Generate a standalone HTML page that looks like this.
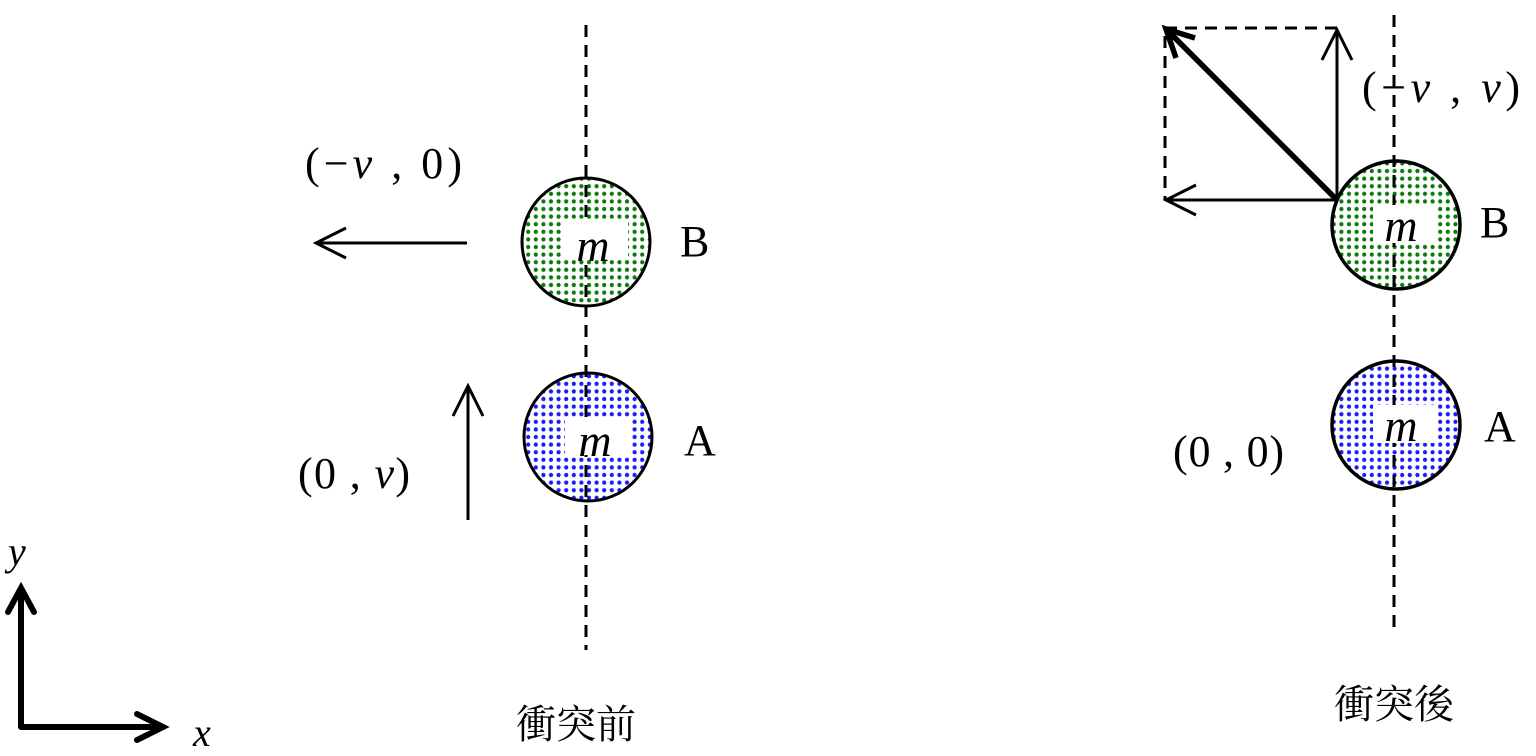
<!DOCTYPE html>
<html><head><meta charset="utf-8"><style>body{margin:0;background:#fff}svg{display:block}</style></head><body>
<svg width="1536" height="756" viewBox="0 0 1536 756" xmlns="http://www.w3.org/2000/svg" font-family="Liberation Serif, Noto Serif CJK SC, serif">
<defs>
<pattern id="pg" width="7.6" height="7.6" patternUnits="userSpaceOnUse"><circle cx="3.8" cy="3.8" r="2.1" fill="#0a7a0a"/></pattern>
<pattern id="pb" width="7.6" height="7.6" patternUnits="userSpaceOnUse"><circle cx="3.8" cy="3.8" r="2.1" fill="#1a1aff"/></pattern>
</defs>
<g stroke="#000" stroke-width="3">
<circle cx="586" cy="242" r="64" fill="url(#pg)"/>
<circle cx="588" cy="437" r="64" fill="url(#pb)"/>
<circle cx="1396" cy="225" r="64" fill="url(#pg)" stroke-width="3.5"/>
<circle cx="1396" cy="425" r="64" fill="url(#pb)" stroke-width="3.5"/>
</g>
<g stroke="#000" stroke-width="3" stroke-dasharray="12,8">
<line x1="586" y1="25" x2="586" y2="650"/>
<line x1="1394" y1="15" x2="1394" y2="635"/>
<polyline points="1337,28 1165,28 1165,200" fill="none"/>
</g>
<g fill="#fff">
<rect x="563" y="222" width="65" height="38"/>
<rect x="565" y="417" width="65" height="38"/>
<rect x="1373" y="205" width="65" height="38"/>
<rect x="1373" y="405" width="65" height="38"/>
</g>
<g fill="none" stroke="#000" stroke-width="3">
<line x1="467" y1="243" x2="316" y2="243"/><polyline points="346,228 316,243 346,258"/>
<line x1="468" y1="520" x2="468" y2="386"/><polyline points="453,416 468,386 483,416"/>
<line x1="1337" y1="200" x2="1337" y2="30"/><polyline points="1322,60 1337,30 1352,60"/>
<line x1="1337" y1="200" x2="1166" y2="200"/><polyline points="1196,185 1166,200 1196,215"/>
<line x1="1337" y1="200" x2="1168" y2="31" stroke-width="5.5"/><polyline points="1176,58 1166,29 1195,38" stroke-width="5.5"/>
<polyline points="21,588 21,727 163,727" stroke-width="6" stroke-linejoin="round"/>
<polyline points="8,612 21,588 34,612" stroke-width="6" stroke-linecap="round"/>
<polyline points="137,714 163,727 137,740" stroke-width="6" stroke-linecap="round"/>
</g>
<g font-size="44" fill="#000">
<g font-style="italic" text-anchor="middle" font-size="46">
<text x="593" y="261">m</text>
<text x="595" y="456">m</text>
<text x="1401" y="241">m</text>
<text x="1401" y="441">m</text>
</g>
<text x="680" y="256">B</text>
<text x="684" y="455">A</text>
<text x="1480" y="237">B</text>
<text x="1484" y="441">A</text>
<text x="305" y="178" textLength="157" lengthAdjust="spacing">(−<tspan font-style="italic">v</tspan> , 0)</text>
<text x="298" y="488" textLength="112" lengthAdjust="spacing">(0 , <tspan font-style="italic">v</tspan>)</text>
<text x="1362" y="102" textLength="158" lengthAdjust="spacing">(−<tspan font-style="italic">v</tspan> , <tspan font-style="italic">v</tspan>)</text>
<text x="1173" y="466" textLength="111" lengthAdjust="spacing">(0 , 0)</text>
<text x="8" y="565" font-style="italic" font-size="40">y</text>
<text x="193" y="746" font-style="italic" font-size="40">x</text>
<text x="516" y="738" font-size="40" font-family="Noto Serif CJK SC, serif">衝突前</text>
<text x="1334" y="718" font-size="40" font-family="Noto Serif CJK SC, serif">衝突後</text>
</g>
</svg>
</body></html>
